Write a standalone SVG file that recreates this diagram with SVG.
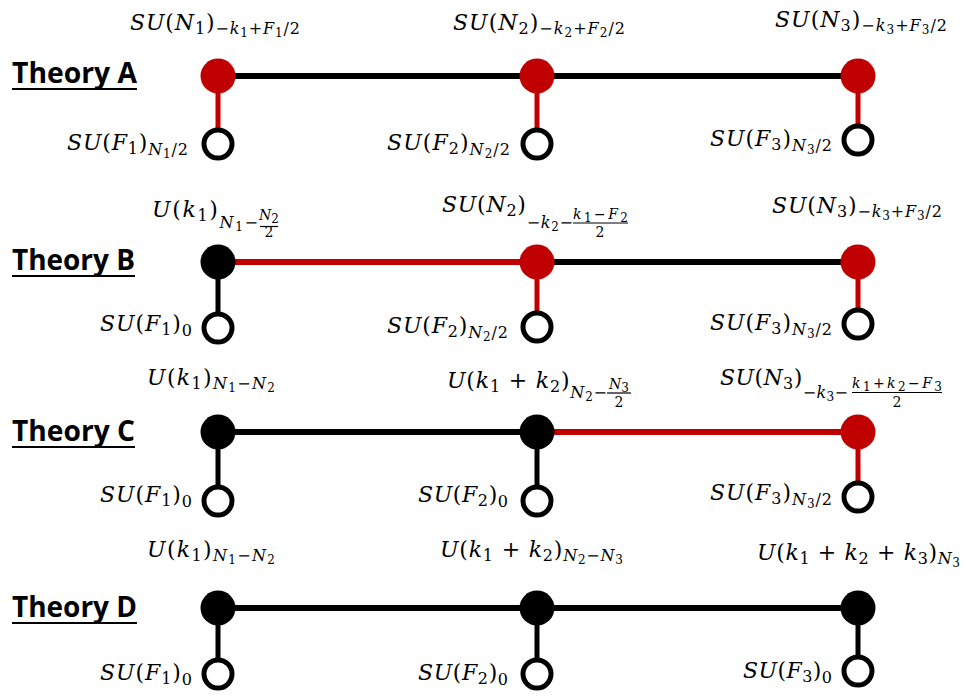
<svg xmlns="http://www.w3.org/2000/svg" width="966" height="700" viewBox="0 0 966 700">
<style>
.m{font-family:"DejaVu Serif","Liberation Serif",serif;font-size:22px;font-style:italic;fill:#000}
.fr{font-family:"DejaVu Serif","Liberation Serif",serif;font-size:14px;font-style:italic;fill:#000}
.s{font-size:16px}
.ss{font-size:12px}
.u{font-style:normal}
.bar{stroke:#000;stroke-width:1.2}
.t{font-family:"Open Sans","Liberation Sans",sans-serif;font-weight:700;font-size:28px;fill:#000}
.ul{stroke:#000;stroke-width:2}
.nb{fill:#000}
.nr{fill:#C00000}
.o{fill:#fff;stroke:#000;stroke-width:5}
.eb{stroke:#000;stroke-width:6}
.er{stroke:#C00000;stroke-width:6}
.vb{stroke:#000;stroke-width:5}
.vr{stroke:#C00000;stroke-width:5}
</style>
<rect width="966" height="700" fill="#fff"/>

<g id="theory-labels">
<g id="label-A"><text class="t" x="12" y="83" textLength="125" lengthAdjust="spacingAndGlyphs">Theory A</text><line class="ul" x1="12" y1="89" x2="137" y2="89"/></g>
<g id="label-B"><text class="t" x="12" y="270" textLength="123" lengthAdjust="spacingAndGlyphs">Theory B</text><line class="ul" x1="12" y1="276" x2="135" y2="276"/></g>
<g id="label-C"><text class="t" x="12" y="441" textLength="123" lengthAdjust="spacingAndGlyphs">Theory C</text><line class="ul" x1="12" y1="447" x2="135" y2="447"/></g>
<g id="label-D"><text class="t" x="12" y="617" textLength="125" lengthAdjust="spacingAndGlyphs">Theory D</text><line class="ul" x1="12" y1="623" x2="137" y2="623"/></g>
</g>

<g id="connectors">
<line class="eb" x1="218" y1="76" x2="858" y2="76"/>
<line class="vr" x1="218" y1="76" x2="218" y2="144"/>
<line class="vr" x1="537" y1="76" x2="537" y2="144"/>
<line class="vr" x1="858" y1="76" x2="858" y2="140"/>

<line class="er" x1="218" y1="262" x2="537" y2="262"/>
<line class="eb" x1="537" y1="262" x2="858" y2="262"/>
<line class="vb" x1="218" y1="262" x2="218" y2="328"/>
<line class="vr" x1="537" y1="262" x2="537" y2="327"/>
<line class="vr" x1="858" y1="262" x2="858" y2="324"/>

<line class="eb" x1="218" y1="432" x2="537" y2="432"/>
<line class="er" x1="537" y1="432" x2="858" y2="432"/>
<line class="vb" x1="218" y1="432" x2="218" y2="501"/>
<line class="vb" x1="537" y1="432" x2="537" y2="501"/>
<line class="vr" x1="858" y1="432" x2="858" y2="497"/>

<line class="eb" x1="218" y1="608" x2="858" y2="608"/>
<line class="vb" x1="218" y1="608" x2="218" y2="674"/>
<line class="vb" x1="537" y1="608" x2="537" y2="674"/>
<line class="vb" x1="858" y1="608" x2="858" y2="671"/>
</g>

<!-- Theory A -->
<g id="A-N1"><circle class="nr" cx="218" cy="76" r="17.5"/><text class="m" x="130" y="30" textLength="170">SU<tspan class="u">(</tspan>N<tspan class="u s" dy="4">1</tspan><tspan class="u" dy="-4">)</tspan><tspan class="u s" dy="4">−</tspan><tspan class="s">k</tspan><tspan class="u ss" dy="3">1</tspan><tspan class="u s" dy="-3">+</tspan><tspan class="s">F</tspan><tspan class="u ss" dy="3">1</tspan><tspan class="u s" dy="-3">/2</tspan></text></g>
<g id="A-N2"><circle class="nr" cx="537" cy="76" r="17.5"/><text class="m" x="453" y="30" textLength="172">SU<tspan class="u">(</tspan>N<tspan class="u s" dy="4">2</tspan><tspan class="u" dy="-4">)</tspan><tspan class="u s" dy="4">−</tspan><tspan class="s">k</tspan><tspan class="u ss" dy="3">2</tspan><tspan class="u s" dy="-3">+</tspan><tspan class="s">F</tspan><tspan class="u ss" dy="3">2</tspan><tspan class="u s" dy="-3">/2</tspan></text></g>
<g id="A-N3"><circle class="nr" cx="858" cy="76" r="17.5"/><text class="m" x="775" y="27" textLength="172">SU<tspan class="u">(</tspan>N<tspan class="u s" dy="4">3</tspan><tspan class="u" dy="-4">)</tspan><tspan class="u s" dy="4">−</tspan><tspan class="s">k</tspan><tspan class="u ss" dy="3">3</tspan><tspan class="u s" dy="-3">+</tspan><tspan class="s">F</tspan><tspan class="u ss" dy="3">3</tspan><tspan class="u s" dy="-3">/2</tspan></text></g>
<g id="A-F1"><circle class="o" cx="218" cy="144" r="14"/><text class="m" x="67" y="150" textLength="121">SU<tspan class="u">(</tspan>F<tspan class="u s" dy="4">1</tspan><tspan class="u" dy="-4">)</tspan><tspan class="s" dy="5">N</tspan><tspan class="u ss" dy="3">1</tspan><tspan class="u s" dy="-3">/2</tspan></text></g>
<g id="A-F2"><circle class="o" cx="537" cy="144" r="14"/><text class="m" x="387" y="150" textLength="123">SU<tspan class="u">(</tspan>F<tspan class="u s" dy="4">2</tspan><tspan class="u" dy="-4">)</tspan><tspan class="s" dy="5">N</tspan><tspan class="u ss" dy="3">2</tspan><tspan class="u s" dy="-3">/2</tspan></text></g>
<g id="A-F3"><circle class="o" cx="858" cy="140" r="14"/><text class="m" x="710" y="146" textLength="122">SU<tspan class="u">(</tspan>F<tspan class="u s" dy="4">3</tspan><tspan class="u" dy="-4">)</tspan><tspan class="s" dy="5">N</tspan><tspan class="u ss" dy="3">3</tspan><tspan class="u s" dy="-3">/2</tspan></text></g>

<!-- Theory B -->
<g id="B-N1"><circle class="nb" cx="218" cy="262" r="17.5"/><text class="m" x="152" y="217" textLength="106">U<tspan class="u">(</tspan>k<tspan class="u s" dy="4">1</tspan><tspan class="u" dy="-4">)</tspan><tspan class="s" dy="11">N</tspan><tspan class="u ss" dy="3">1</tspan><tspan class="u s" dy="-3">−</tspan></text><text class="fr" x="269" y="220" text-anchor="middle">N<tspan class="u ss" dy="3">2</tspan></text><line class="bar" x1="260" y1="226.5" x2="278" y2="226.5"/><text class="fr u" x="269" y="237" text-anchor="middle">2</text></g>
<g id="B-N2"><circle class="nr" cx="537" cy="262" r="17.5"/><text class="m" x="442" y="212" textLength="131">SU<tspan class="u">(</tspan>N<tspan class="u s" dy="4">2</tspan><tspan class="u" dy="-4">)</tspan><tspan class="u s" dy="16">−</tspan><tspan class="s">k</tspan><tspan class="u ss" dy="3">2</tspan><tspan class="u s" dy="-3">−</tspan></text><text class="fr" x="573" y="219" textLength="55">k<tspan class="u ss" dy="3">1</tspan><tspan class="u" dy="-3">−</tspan>F<tspan class="u ss" dy="3">2</tspan></text><line class="bar" x1="573" y1="223" x2="628" y2="223"/><text class="fr u" x="600" y="237" text-anchor="middle">2</text></g>
<g id="B-N3"><circle class="nr" cx="858" cy="262" r="17.5"/><text class="m" x="772" y="213" textLength="170">SU<tspan class="u">(</tspan>N<tspan class="u s" dy="4">3</tspan><tspan class="u" dy="-4">)</tspan><tspan class="u s" dy="4">−</tspan><tspan class="s">k</tspan><tspan class="u ss" dy="3">3</tspan><tspan class="u s" dy="-3">+</tspan><tspan class="s">F</tspan><tspan class="u ss" dy="3">3</tspan><tspan class="u s" dy="-3">/2</tspan></text></g>
<g id="B-F1"><circle class="o" cx="218" cy="328" r="14"/><text class="m" x="100" y="331" textLength="92">SU<tspan class="u">(</tspan>F<tspan class="u s" dy="4">1</tspan><tspan class="u" dy="-4">)</tspan><tspan class="u s" dy="5">0</tspan></text></g>
<g id="B-F2"><circle class="o" cx="537" cy="327" r="14"/><text class="m" x="387" y="333" textLength="121">SU<tspan class="u">(</tspan>F<tspan class="u s" dy="4">2</tspan><tspan class="u" dy="-4">)</tspan><tspan class="s" dy="5">N</tspan><tspan class="u ss" dy="3">2</tspan><tspan class="u s" dy="-3">/2</tspan></text></g>
<g id="B-F3"><circle class="o" cx="858" cy="324" r="14"/><text class="m" x="710" y="330" textLength="122">SU<tspan class="u">(</tspan>F<tspan class="u s" dy="4">3</tspan><tspan class="u" dy="-4">)</tspan><tspan class="s" dy="5">N</tspan><tspan class="u ss" dy="3">3</tspan><tspan class="u s" dy="-3">/2</tspan></text></g>

<!-- Theory C -->
<g id="C-N1"><circle class="nb" cx="218" cy="432" r="17.5"/><text class="m" x="147" y="385" textLength="128">U<tspan class="u">(</tspan>k<tspan class="u s" dy="4">1</tspan><tspan class="u" dy="-4">)</tspan><tspan class="s" dy="4">N</tspan><tspan class="u ss" dy="3">1</tspan><tspan class="u s" dy="-3">−</tspan><tspan class="s">N</tspan><tspan class="u ss" dy="3">2</tspan></text></g>
<g id="C-N2"><circle class="nb" cx="537" cy="432" r="17.5"/><text class="m" x="447" y="388" textLength="160">U<tspan class="u">(</tspan>k<tspan class="u s" dy="4">1</tspan><tspan class="u" dy="-4"> + </tspan>k<tspan class="u s" dy="4">2</tspan><tspan class="u" dy="-4">)</tspan><tspan class="s" dy="10">N</tspan><tspan class="u ss" dy="3">2</tspan><tspan class="u s" dy="-3">−</tspan></text><text class="fr" x="619" y="389" text-anchor="middle">N<tspan class="u ss" dy="3">3</tspan></text><line class="bar" x1="607" y1="393" x2="631" y2="393"/><text class="fr u" x="619" y="407" text-anchor="middle">2</text></g>
<g id="C-N3"><circle class="nr" cx="858" cy="432" r="17.5"/><text class="m" x="720" y="385" textLength="128">SU<tspan class="u">(</tspan>N<tspan class="u s" dy="4">3</tspan><tspan class="u" dy="-4">)</tspan><tspan class="u s" dy="13">−</tspan><tspan class="s">k</tspan><tspan class="u ss" dy="3">3</tspan><tspan class="u s" dy="-3">−</tspan></text><text class="fr" x="852" y="388" textLength="90">k<tspan class="u ss" dy="3">1</tspan><tspan class="u" dy="-3">+</tspan>k<tspan class="u ss" dy="3">2</tspan><tspan class="u" dy="-3">−</tspan>F<tspan class="u ss" dy="3">3</tspan></text><line class="bar" x1="852" y1="392.5" x2="942" y2="392.5"/><text class="fr u" x="897" y="407" text-anchor="middle">2</text></g>
<g id="C-F1"><circle class="o" cx="218" cy="501" r="14"/><text class="m" x="100" y="502" textLength="92">SU<tspan class="u">(</tspan>F<tspan class="u s" dy="4">1</tspan><tspan class="u" dy="-4">)</tspan><tspan class="u s" dy="5">0</tspan></text></g>
<g id="C-F2"><circle class="o" cx="537" cy="501" r="14"/><text class="m" x="418" y="502" textLength="90">SU<tspan class="u">(</tspan>F<tspan class="u s" dy="4">2</tspan><tspan class="u" dy="-4">)</tspan><tspan class="u s" dy="5">0</tspan></text></g>
<g id="C-F3"><circle class="o" cx="858" cy="497" r="14"/><text class="m" x="710" y="500" textLength="122">SU<tspan class="u">(</tspan>F<tspan class="u s" dy="4">3</tspan><tspan class="u" dy="-4">)</tspan><tspan class="s" dy="5">N</tspan><tspan class="u ss" dy="3">3</tspan><tspan class="u s" dy="-3">/2</tspan></text></g>

<!-- Theory D -->
<g id="D-N1"><circle class="nb" cx="218" cy="608" r="17.5"/><text class="m" x="147" y="557" textLength="128">U<tspan class="u">(</tspan>k<tspan class="u s" dy="4">1</tspan><tspan class="u" dy="-4">)</tspan><tspan class="s" dy="4">N</tspan><tspan class="u ss" dy="3">1</tspan><tspan class="u s" dy="-3">−</tspan><tspan class="s">N</tspan><tspan class="u ss" dy="3">2</tspan></text></g>
<g id="D-N2"><circle class="nb" cx="537" cy="608" r="17.5"/><text class="m" x="440" y="557" textLength="183">U<tspan class="u">(</tspan>k<tspan class="u s" dy="4">1</tspan><tspan class="u" dy="-4"> + </tspan>k<tspan class="u s" dy="4">2</tspan><tspan class="u" dy="-4">)</tspan><tspan class="s" dy="4">N</tspan><tspan class="u ss" dy="3">2</tspan><tspan class="u s" dy="-3">−</tspan><tspan class="s">N</tspan><tspan class="u ss" dy="3">3</tspan></text></g>
<g id="D-N3"><circle class="nb" cx="858" cy="608" r="17.5"/><text class="m" x="757" y="560" textLength="203">U<tspan class="u">(</tspan>k<tspan class="u s" dy="4">1</tspan><tspan class="u" dy="-4"> + </tspan>k<tspan class="u s" dy="4">2</tspan><tspan class="u" dy="-4"> + </tspan>k<tspan class="u s" dy="4">3</tspan><tspan class="u" dy="-4">)</tspan><tspan class="s" dy="4">N</tspan><tspan class="u ss" dy="3">3</tspan></text></g>
<g id="D-F1"><circle class="o" cx="218" cy="674" r="14"/><text class="m" x="100" y="680" textLength="92">SU<tspan class="u">(</tspan>F<tspan class="u s" dy="4">1</tspan><tspan class="u" dy="-4">)</tspan><tspan class="u s" dy="5">0</tspan></text></g>
<g id="D-F2"><circle class="o" cx="537" cy="674" r="14"/><text class="m" x="418" y="680" textLength="90">SU<tspan class="u">(</tspan>F<tspan class="u s" dy="4">2</tspan><tspan class="u" dy="-4">)</tspan><tspan class="u s" dy="5">0</tspan></text></g>
<g id="D-F3"><circle class="o" cx="858" cy="671" r="14"/><text class="m" x="743" y="678" textLength="89">SU<tspan class="u">(</tspan>F<tspan class="u s" dy="4">3</tspan><tspan class="u" dy="-4">)</tspan><tspan class="u s" dy="5">0</tspan></text></g>
</svg>
